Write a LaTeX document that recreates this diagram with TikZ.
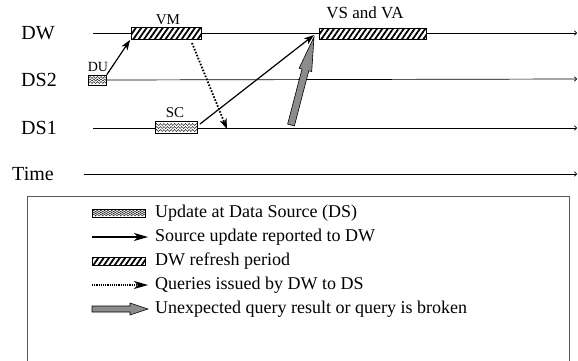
\documentclass[tikz,border=0pt]{standalone}
\usepackage{fontspec}
\setmainfont{Liberation Serif}
\usetikzlibrary{patterns.meta,decorations.pathmorphing,arrows.meta,calc}

\tikzset{
  x=1pt, y=1pt,
  lanelabel/.style={font=\fontsize{20}{24}\selectfont, inner sep=0pt},
  boxlabel/.style={font=\fontsize{15}{18}\selectfont, inner sep=0pt},
  legtext/.style={font=\fontsize{18}{21}\selectfont, inner sep=0pt, anchor=west},
  lane/.style={line width=0.7pt, -{To[length=3pt,width=5pt]}},
  hatchbox/.style={draw, line width=0.6pt, rectangle, inner sep=0pt,
    preaction={fill=white},
    pattern={Lines[angle=55,distance=4.4pt,line width=1.8pt]}},
  wavybox/.style={draw, line width=0.6pt, rectangle, inner sep=0pt, fill=white,
    path picture={
      \foreach \k in {0.25,0.5,0.75}
        \draw[line width=0.4pt, decorate,
              decoration={snake, amplitude=1pt, segment length=3.6pt}]
          ($(path picture bounding box.south west)!\k!(path picture bounding box.north west) + (-3pt,0)$)
          -- ++(80pt,0);
    }},
  report/.style={line width=1.2pt, -{Stealth[length=10pt,width=7pt,inset=2.5pt]}},
  query/.style={line width=1.8pt, dash pattern=on 1.6pt off 1.6pt,
    -{Stealth[length=10pt,width=7pt,inset=2.5pt]}},
  broken/.style={draw=black, line width=0.6pt, fill=black!45},
}

\begin{document}
\begin{tikzpicture}
  \useasboundingbox (0,0) rectangle (578,-360);

  % lane labels
  \node[lanelabel] (lDW)   at (38,-33)  {DW};
  \node[lanelabel] (lDS2)  at (39,-80)  {DS2};
  \node[lanelabel] (lDS1)  at (39,-128) {DS1};
  \node[lanelabel] (lTime) at (33,-174) {Time};

  % lane ends
  \coordinate (dwS)  at (93,-33);   \coordinate (dwE)  at (577,-33);
  \coordinate (ds2E) at (577,-79);
  \coordinate (ds1S) at (93,-128);  \coordinate (ds1E) at (577,-128);
  \coordinate (tS)   at (84,-174);  \coordinate (tE)   at (577,-174);

  % time lines
  \draw[lane] (dwS) -- (dwE);
  \draw[lane] (ds1S) -- (ds1E);
  \draw[lane] (tS) -- (tE);

  % source updates
  \node[wavybox, minimum width=18pt, minimum height=10pt] (du) at (97.5,-80) {};
  \node[boxlabel, font=\fontsize{14}{16}\selectfont] (duL) at (98,-67) {DU};
  \draw[lane] (du.east) -- (ds2E);

  \node[wavybox, minimum width=42pt, minimum height=12pt] (sc) at (176,-127.5) {};
  \node[boxlabel] (scL) at (175,-113) {SC};

  % refresh periods
  \node[hatchbox, minimum width=70pt, minimum height=12pt] (vm) at (166,-33) {};
  \node[boxlabel] (vmL) at (168,-20) {VM};

  \node[hatchbox, minimum width=107pt, minimum height=11pt] (vs) at (372.5,-33.5) {};
  \node[boxlabel, font=\fontsize{17}{20}\selectfont] (vsL) at (365,-13) {VS and VA};

  % reports and queries
  \draw[report] (du.north east) -- (vm.south west);
  \coordinate (qS) at (192,-43);
  \coordinate (qE) at (227,-129);
  \draw[query] (qS) -- (qE);
  \coordinate (scOut) at (200,-124);
  \coordinate (vsIn) at (314,-35);
  \draw[report] (scOut) -- (vsIn);

  % broken query arrow
  \coordinate (g0) at (291,-125);
  \coordinate (g1) at (314,-37);
  \coordinate (gh) at ($(g1)!34pt!(g0)$);
  \draw[broken]
    ($(g0)!3.5pt!90:(g1)$) -- ($(gh)!3.5pt!90:(g1)$) -- ($(gh)!6.5pt!90:(g1)$)
    -- (g1)
    -- ($(gh)!6.5pt!-90:(g1)$) -- ($(gh)!3.5pt!-90:(g1)$) -- ($(g0)!3.5pt!-90:(g1)$) -- cycle;

  % legend
  \draw[black!65, line width=1pt] (27,-362) -- (27,-196) -- (569,-196) -- (569,-362);

  \node[wavybox, minimum width=53pt, minimum height=8pt] (k1) at (118.5,-213) {};
  \node[legtext] (t1) at (155,-213) {Update at Data Source (DS)};

  \coordinate (k2a) at (92,-237); \coordinate (k2b) at (148,-237);
  \draw[report, -{Stealth[length=14pt,width=8pt,inset=4pt]}] (k2a) -- (k2b);
  \node[legtext] (t2) at (155,-237) {Source update reported to DW};

  \node[hatchbox, minimum width=53pt, minimum height=8pt] (k3) at (118.5,-261) {};
  \node[legtext] (t3) at (155,-261) {DW refresh period};

  \coordinate (k4a) at (92,-285); \coordinate (k4b) at (148,-285);
  \draw[query, line width=1.1pt, dash pattern=on 1.1pt off 1.1pt,
        -{Stealth[length=14pt,width=8pt,inset=4pt]}] (k4a) -- (k4b);
  \node[legtext] (t4) at (155,-285) {Queries issued by DW to DS};

  \coordinate (k5a) at (92,-309); \coordinate (k5b) at (148,-309);
  \coordinate (k5h) at ($(k5b)!18pt!(k5a)$);
  \draw[broken]
    ($(k5a)!3pt!90:(k5b)$) -- ($(k5h)!3pt!90:(k5b)$) -- ($(k5h)!6pt!90:(k5b)$)
    -- (k5b)
    -- ($(k5h)!6pt!-90:(k5b)$) -- ($(k5h)!3pt!-90:(k5b)$) -- ($(k5a)!3pt!-90:(k5b)$) -- cycle;
  \node[legtext] (t5) at (155,-309) {Unexpected query result or query is broken};
\end{tikzpicture}
\end{document}
